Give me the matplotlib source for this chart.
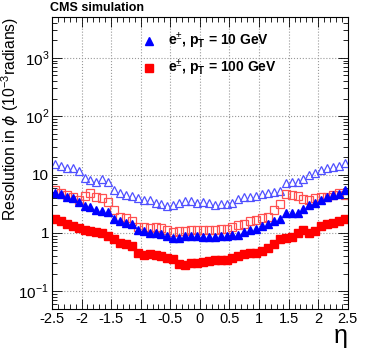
import matplotlib
matplotlib.use("Agg")
import matplotlib.pyplot as plt
import matplotlib.ticker as mticker
import numpy as np

plt.rcParams['font.family'] = ['Liberation Sans', 'DejaVu Sans']
plt.rcParams['mathtext.fontset'] = 'custom'
plt.rcParams['mathtext.rm'] = 'Liberation Sans'
plt.rcParams['mathtext.bf'] = 'Liberation Sans:bold'

# eta bin centres (50 bins of 0.1)
eta = np.round(np.arange(-2.45, 2.5, 0.1), 2)

# resolution in phi, 10^-3 rad
e10_open = [15.0, 14.2, 12.9, 12.9, 11.3, 8.7, 8.1, 7.6, 8.3, 7.6,
            5.5, 4.9, 4.5, 4.3, 3.9, 3.6, 3.6, 3.3, 3.1, 2.9,
            3.0, 3.2, 3.5, 3.5, 3.3, 3.45, 3.2, 3.0, 3.1, 3.1,
            3.3, 3.8, 4.1, 4.2, 4.3, 4.7, 4.9, 5.1, 5.2, 7.1,
            7.6, 7.6, 8.3, 9.9, 10.8, 12.0, 12.9, 13.7, 14.2, 15.7]
e10 = [4.8, 4.6, 4.1, 3.9, 3.45, 2.9, 2.8, 2.5, 2.35, 2.3,
       1.72, 1.57, 1.5, 1.43, 1.13, 1.07, 0.99, 0.99, 0.95, 0.89,
       0.81, 0.81, 0.87, 0.89, 0.87, 0.84, 0.84, 0.84, 0.87, 0.9,
       0.93, 0.93, 1.03, 1.13, 1.18, 1.32, 1.43, 1.57, 1.72, 2.17,
       2.2, 2.2, 2.55, 3.0, 3.3, 3.7, 4.1, 4.5, 4.6, 5.5]
e100_open = [5.5, 4.9, 4.5, 4.2, 3.7, 4.3, 4.8, 4.2, 4.0, 3.45,
             2.5, 1.86, 1.8, 1.57, 1.25, 1.24, 1.2, 1.27, 1.2, 1.13,
             1.05, 1.1, 1.1, 1.13, 1.13, 1.13, 1.13, 1.13, 1.15, 1.15,
             1.27, 1.35, 1.43, 1.57, 1.66, 1.8, 1.9, 2.5, 3.1, 4.6,
             4.5, 4.3, 3.8, 3.6, 3.9, 4.1, 4.2, 4.5, 4.8, 4.5]
e100 = [1.72, 1.57, 1.43, 1.3, 1.2, 1.13, 1.1, 1.05, 0.99, 0.9,
        0.78, 0.68, 0.65, 0.6, 0.45, 0.42, 0.43, 0.42, 0.41, 0.37,
        0.36, 0.29, 0.28, 0.3, 0.3, 0.32, 0.33, 0.34, 0.34, 0.35,
        0.37, 0.4, 0.44, 0.45, 0.45, 0.49, 0.55, 0.65, 0.78, 0.81,
        0.84, 1.01, 1.13, 0.99, 1.1, 1.32, 1.43, 1.5, 1.6, 1.72]

xticks = [-2.5, -2, -1.5, -1, -0.5, 0, 0.5, 1, 1.5, 2, 2.5]
xticklabels = ['-2.5', '-2', '-1.5', '-1', '-0.5', '0', '0.5', '1', '1.5', '2', '2.5']
yticks = [0.1, 1, 10, 100, 1000]
yticklabels = ['$10^{-1}$', '1', '10', '$10^{2}$', '$10^{3}$']

fig = plt.figure(figsize=(3.74, 3.55), dpi=100)
ax = fig.add_axes([0.139, 0.130, 0.791, 0.822])

ax.plot(eta, e10_open, ls='none', marker='^', ms=6, mfc='none', mec='#5050ff', mew=0.9)
ax.plot(eta, e100_open, ls='none', marker='s', ms=6, mfc='none', mec='#ff5050', mew=0.9)
ax.plot(eta, e10, ls='none', marker='^', ms=5.5, color='#0000ff')
ax.plot(eta, e100, ls='none', marker='s', ms=5.5, color='#ff0000')

ax.set_yscale('log')
ax.set_xlim(-2.5, 2.5)
ax.set_ylim(0.05, 5000)
ax.set_xticks(xticks)
ax.set_xticklabels(xticklabels)
ax.xaxis.set_minor_locator(mticker.MultipleLocator(0.1))
ax.set_yticks(yticks)
ax.set_yticklabels(yticklabels)
ax.yaxis.set_minor_locator(mticker.LogLocator(base=10, subs=np.arange(2, 10), numticks=20))
ax.yaxis.set_minor_formatter(mticker.NullFormatter())
ax.tick_params(which='both', direction='in', top=True, right=True, labelsize=10.5, width=0.6)
ax.tick_params(axis='y', labelsize=11)
ax.tick_params(which='major', length=7)
ax.tick_params(which='minor', length=3.5)
ax.tick_params(axis='x', pad=2)
ax.tick_params(axis='y', pad=2)
ax.grid(True, which='major', ls=':', color='#999999', lw=0.8)
for s in ax.spines.values():
    s.set_linewidth(0.8)

ax.set_xlabel('η', fontsize=18, loc='right', labelpad=-1)
ax.set_ylabel(r'Resolution in $\phi$ (10$^{-3}$radians)', fontsize=11.3, loc='top')
ax.yaxis.set_label_coords(-0.105, 1.0)

fig.text(0.134, 0.978, 'CMS simulation', fontsize=9, fontweight='bold', va='center')

# legend
ax.plot([-0.86], [1950], marker='^', ms=5.5, color='#0000ff', ls='none')
ax.plot([-0.86], [680], marker='s', ms=5.5, color='#ff0000', ls='none')
ax.text(-0.54, 1950, r'e$^{\pm}$, p$_{\mathbf{T}}$ = 10 GeV', fontsize=10, fontweight='bold', va='center')
ax.text(-0.54, 680, r'e$^{\pm}$, p$_{\mathbf{T}}$ = 100 GeV', fontsize=10, fontweight='bold', va='center')

fig.savefig('out.png', dpi=100)
